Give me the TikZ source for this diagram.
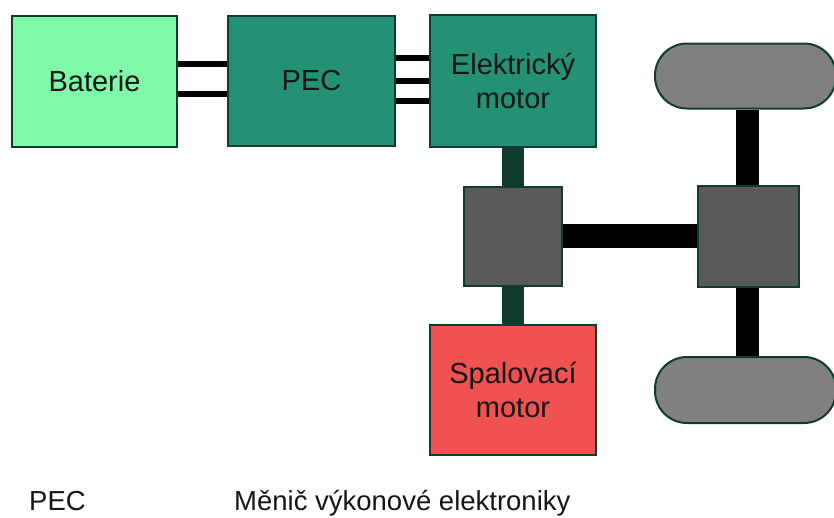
\documentclass[tikz,border=0pt]{standalone}
\usepackage{fontspec}
\setmainfont{Liberation Sans}
\usetikzlibrary{backgrounds}
\definecolor{batfill}{HTML}{7EF9AA}
\definecolor{tealfill}{HTML}{249174}
\definecolor{edge}{HTML}{123B30}
\definecolor{gearfill}{HTML}{5A5A5A}
\definecolor{wheelfill}{HTML}{808080}
\definecolor{redfill}{HTML}{F05252}
\definecolor{shaftgreen}{HTML}{0F3A2E}
\definecolor{txt}{HTML}{151515}
\tikzset{
  box/.style={draw=edge, line width=2pt, inner sep=0pt, align=center, text=txt,
    font=\fontsize{29}{34}\selectfont},
  gear/.style={draw=edge, line width=2pt, fill=gearfill, inner sep=0pt},
  wheel/.style={draw=edge, line width=2pt, fill=wheelfill, inner sep=0pt,
    rounded corners=32pt, minimum width=181pt, minimum height=65pt},
  wire/.style={line width=5.5pt, black},
  shaft/.style={line width=22pt, shaftgreen},
  axle/.style={line width=23pt, black},
  legend/.style={anchor=base west, inner sep=0pt, text=txt,
    font=\fontsize{27.5}{32}\selectfont}
}
\begin{document}
\begin{tikzpicture}[x=1pt,y=-1pt]
\useasboundingbox (0,0) rectangle (834,517);
\node[box, fill=batfill, minimum width=165pt, minimum height=131pt] (bat) at (94.5,81) {Baterie};
\node[box, fill=tealfill, minimum width=167pt, minimum height=130pt] (pec) at (311.5,81) {PEC};
\node[box, fill=tealfill, minimum width=166pt, minimum height=132pt] (mot) at (513,81) {Elektrický\\motor};
\node[gear, minimum width=98pt, minimum height=99pt] (g1) at (513,236) {};
\node[gear, minimum width=101pt, minimum height=101pt] (g2) at (748.5,236) {};
\node[box, fill=redfill, minimum width=166pt, minimum height=130pt] (ice) at (513,390) {Spalovací\\motor};
\node[wheel] (w1) at (745.5,76) {};
\node[wheel, minimum height=66pt] (w2) at (745.5,390) {};
\node[legend] (l1) at (29,510.5) {PEC};
\node[legend] (l2) at (234,510.5) {Měnič výkonové elektroniky};
\begin{scope}[on background layer]
  \draw[wire, line width=6pt] ([yshift=17pt]bat.east) -- ([yshift=17pt]pec.west);
  \draw[wire, line width=6pt] ([yshift=-13pt]bat.east) -- ([yshift=-13pt]pec.west);
  \draw[wire] ([yshift=23pt]pec.east) -- ([yshift=23pt]mot.west);
  \draw[wire] (pec.east) -- (mot.west);
  \draw[wire] ([yshift=-20pt]pec.east) -- ([yshift=-20pt]mot.west);
  \draw[shaft] (mot.south) -- (g1.north);
  \draw[shaft] (g1.south) -- (ice.north);
  \draw[line width=24pt, black] (g1.east) -- (g2.west);
  \draw[axle] ([xshift=-1.5pt]g2.north) -- ([xshift=-1.5pt]g2.north |- w1.south);
  \draw[axle] ([xshift=-1.5pt]g2.south) -- ([xshift=-1.5pt]g2.south |- w2.north);
\end{scope}
\end{tikzpicture}
\end{document}
